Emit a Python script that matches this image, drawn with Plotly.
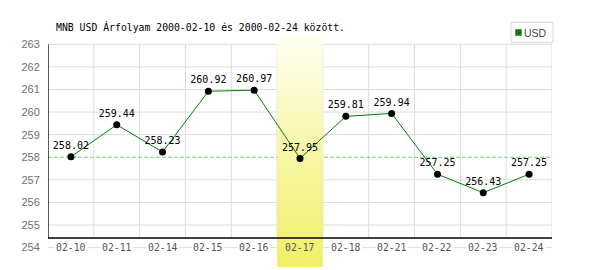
import plotly.graph_objects as go

dates = ["02-10", "02-11", "02-14", "02-15", "02-16", "02-17", "02-18", "02-21", "02-22", "02-23", "02-24"]
values = [258.02, 259.44, 258.23, 260.92, 260.97, 257.95, 259.81, 259.94, 257.25, 256.43, 257.25]
labels = ["258.02", "259.44", "258.23", "260.92", "260.97", "257.95", "259.81", "259.94", "257.25", "256.43", "257.25"]
y_ticks = [254, 255, 256, 257, 258, 259, 260, 261, 262, 263]
ref_level = 258.0
highlight_idx = 5
title = "MNB USD Árfolyam 2000-02-10 és 2000-02-24 között."

W, H = 600, 270
L, R, T, B = 48, 48, 36, 3
PW, PH = W - L - R, H - T - B
Y0, Y1 = 253.142, 263.367
AXIS_Y = 254.425

def px(x):
    return (x - L) / PW

def py(y):
    return 1 - (y - T) / PH

n = len(dates)
xs = list(range(n))
fig = go.Figure()

# highlight band with vertical gradient
hx = highlight_idx
fig.add_trace(go.Scatter(
    x=[hx - 0.5, hx + 0.5, hx + 0.5, hx - 0.5, hx - 0.5],
    y=[Y0, Y0, Y1, Y1, Y0],
    mode="lines", line=dict(width=0), fill="toself",
    fillgradient=dict(type="vertical",
                      colorscale=[[0, "#f0f066"], [0.5, "#f6f6a8"], [1, "#fefef2"]]),
    hoverinfo="skip", showlegend=False))

# data line
fig.add_trace(go.Scatter(
    x=xs, y=values, mode="lines+markers+text",
    line=dict(color="#008000", width=1),
    marker=dict(color="black", size=7),
    text=labels, textposition="top center",
    textfont=dict(family="DejaVu Sans Mono", size=10, color="black"),
    cliponaxis=False, showlegend=False, hoverinfo="skip"))

shapes = []
# horizontal gridlines (the reference level gets a dashed line instead)
for v in y_ticks:
    if v == ref_level:
        continue
    shapes.append(dict(type="line", layer="below", xref="x", yref="y",
                       x0=-0.5, x1=n - 0.5, y0=v, y1=v,
                       line=dict(color="#dcdcdc", width=1)))
# vertical gridlines
for k in range(n):
    shapes.append(dict(type="line", layer="below", xref="x", yref="y",
                       x0=k + 0.5, x1=k + 0.5, y0=AXIS_Y, y1=y_ticks[-1],
                       line=dict(color="#dcdcdc", width=1)))
# reference dashed line
shapes.append(dict(type="line", layer="below", xref="x", yref="y",
                   x0=-0.5, x1=n - 0.5, y0=ref_level, y1=ref_level,
                   line=dict(color="#80c880", width=1, dash="4px,2px")))
# axes lines
shapes.append(dict(type="line", layer="above", xref="x", yref="y",
                   x0=-0.5, x1=n - 0.5, y0=AXIS_Y, y1=AXIS_Y,
                   line=dict(color="black", width=1.3)))
shapes.append(dict(type="line", layer="above", xref="x", yref="y",
                   x0=-0.5, x1=-0.5, y0=AXIS_Y, y1=y_ticks[-1],
                   line=dict(color="black", width=1.3)))
# legend box
shapes.append(dict(type="rect", xref="paper", yref="paper",
                   x0=px(511), x1=px(553), y0=py(42.3), y1=py(22.3),
                   line=dict(color="#d8d8d8", width=1), fillcolor="white"))
shapes.append(dict(type="rect", xref="paper", yref="paper",
                   x0=px(515.5), x1=px(521.5), y0=py(35.5), y1=py(29.5),
                   line=dict(color="#555555", width=0.5), fillcolor="#008000"))

annotations = []
for i, d in enumerate(dates):
    annotations.append(dict(x=i, y=y_ticks[0], xref="x", yref="y", text=d,
                            showarrow=False, xanchor="center", yanchor="middle",
                            font=dict(family="DejaVu Sans Mono", size=9.8, color="#555555"),
                            bgcolor="rgba(0,0,0,0)" if i == highlight_idx else "white",
                            borderpad=1))
annotations.append(dict(x=px(54), y=py(26.5), xref="paper", yref="paper", text=title,
                        showarrow=False, xanchor="left", yanchor="middle",
                        font=dict(family="DejaVu Sans Mono", size=9.8, color="black")))
annotations.append(dict(x=px(522), y=py(32.5), xref="paper", yref="paper", text="USD",
                        showarrow=False, xanchor="left", yanchor="middle",
                        font=dict(family="Liberation Sans", size=10.5, color="#444444")))

fig.update_layout(
    width=W, height=H,
    margin=dict(l=L, r=R, t=T, b=B, pad=0),
    paper_bgcolor="white", plot_bgcolor="rgba(0,0,0,0)",
    showlegend=False,
    xaxis=dict(range=[-0.5, n - 0.5], showgrid=False, zeroline=False,
               showticklabels=False, showline=False, fixedrange=True),
    yaxis=dict(range=[Y0, Y1], showgrid=False, zeroline=False, showline=False,
               tickvals=y_ticks, ticks="outside", ticklen=5, tickcolor="rgba(0,0,0,0)",
               tickfont=dict(family="Liberation Sans", size=11, color="#707070"),
               fixedrange=True),
    shapes=shapes, annotations=annotations,
)

fig.write_html("out.html", config={"displayModeBar": False})
